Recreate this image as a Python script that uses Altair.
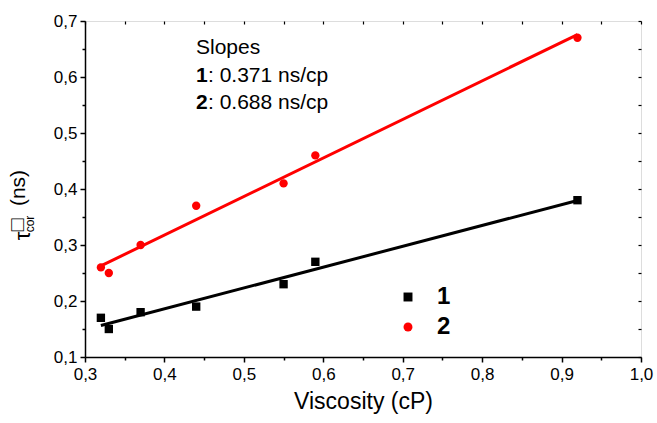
import altair as alt
import pandas as pd

viscosity = [0.32, 0.33, 0.37, 0.44, 0.55, 0.59, 0.92]
tau_1 = [0.17, 0.15, 0.18, 0.19, 0.23, 0.27, 0.38]
tau_2 = [0.26, 0.25, 0.30, 0.37, 0.41, 0.46, 0.67]
series_names = ["1", "2"]
series_colors = ["#000000", "#ff0000"]
series_shapes = ["square", "circle"]
x_ticks = [0.3, 0.35, 0.4, 0.45, 0.5, 0.55, 0.6, 0.65, 0.7, 0.75, 0.8, 0.85, 0.9, 0.95, 1.0]
y_ticks = [0.1, 0.15, 0.2, 0.25, 0.3, 0.35, 0.4, 0.45, 0.5, 0.55, 0.6, 0.65, 0.7]

rows = []
for name, vals in zip(series_names, [tau_1, tau_2]):
    for xv, yv in zip(viscosity, vals):
        rows.append({"x": xv, "y": yv, "series": name})
df = pd.DataFrame(rows)

FONT = "Liberation Sans"
minor_test = "abs(datum.value*10 - round(datum.value*10)) > 0.01"
label_expr = f"({minor_test}) ? '' : replace(format(datum.value, '.1f'), '.', ',')"

xscale = alt.Scale(domain=[0.3, 1.0], nice=False, zero=False)
yscale = alt.Scale(domain=[0.1, 0.7], nice=False, zero=False)

x_axis = alt.Axis(values=x_ticks, labelExpr=label_expr, title="Viscosity (cP)", orient="bottom",
                  titleFontSize=23, titleFont=FONT, titleFontWeight="normal", titleColor="black",
                  titlePadding=8, labelFont=FONT, labelFontSize=17, labelColor="black",
                  labelPadding=4, grid=False, domainColor="black", domainWidth=1.5,
                  tickColor="black", tickWidth=1.5,
                  tickSize={"condition": {"test": minor_test, "value": 3}, "value": 5},
                  labelFlush=False, labelOverlap=False)
y_axis = alt.Axis(values=y_ticks, labelExpr=label_expr, title=None, orient="left",
                  labelFont=FONT, labelFontSize=17, labelColor="black",
                  labelPadding=3, grid=False, domainColor="black", domainWidth=1.5,
                  tickColor="black", tickWidth=1.5,
                  tickSize={"condition": {"test": minor_test, "value": 3}, "value": 5},
                  labelFlush=False, labelOverlap=False)
top_axis = alt.Axis(values=x_ticks, orient="top", labels=False, title=None, domain=False,
                    grid=False, tickColor="black", tickWidth=1.2, tickSize=3, offset=-3)
right_axis = alt.Axis(values=y_ticks, orient="right", labels=False, title=None, domain=False,
                      grid=False, tickColor="black", tickWidth=1.2, tickSize=3, offset=-3)

leg = alt.Legend(orient="none", legendX=311, legendY=264, title=None, direction="vertical",
                 labelFont=FONT, labelFontSize=24, labelFontWeight="bold",
                 labelColor="black", symbolSize=80, symbolStrokeWidth=0,
                 labelOffset=17, rowPadding=6)
color = alt.Color("series:N", scale=alt.Scale(domain=series_names, range=series_colors), legend=leg)
shape = alt.Shape("series:N", scale=alt.Scale(domain=series_names, range=series_shapes), legend=leg)

base = alt.Chart(df)
points = base.mark_point(filled=True, size=70, opacity=1).encode(
    x=alt.X("x:Q", scale=xscale, axis=x_axis),
    y=alt.Y("y:Q", scale=yscale, axis=y_axis),
    color=color,
    shape=shape,
)
lines = base.transform_regression("x", "y", groupby=["series"]).mark_line(strokeWidth=3).encode(
    x=alt.X("x:Q", scale=xscale, axis=top_axis),
    y=alt.Y("y:Q", scale=yscale, axis=right_axis),
    stroke=alt.Stroke("series:N", scale=alt.Scale(domain=series_names, range=series_colors), legend=None),
)

def label(txt, x, y, size, weight="normal", angle=0, align="left"):
    return alt.Chart(pd.DataFrame({"t": [txt]})).mark_text(
        font=FONT, fontSize=size, fontWeight=weight, angle=angle, align=align,
        baseline="middle", color="black"
    ).encode(text="t:N", x=alt.value(x), y=alt.value(y))

annot = [
    label("Slopes", 111, 27, 21),
    label("1", 111, 55, 21, "bold"),
    label(": 0.371 ns/cp", 123, 55, 21),
    label("2", 111, 82, 21, "bold"),
    label(": 0.688 ns/cp", 123, 82, 21),
    label("τ", -62, 215, 22, angle=270, align="center"),
    label("□", -67, 204, 21, angle=270, align="center"),
    label("cor", -55, 203, 12, angle=270, align="center"),
    label("(ns)", -66, 167, 21, angle=270, align="center"),
]

chart = alt.layer(points, lines, *annot).resolve_axis(x="independent", y="independent").properties(
    width=556, height=336,
    autosize=alt.AutoSizeParams(type="none"),
    padding={"left": 85, "top": 21, "right": 16, "bottom": 66},
).configure_view(stroke="black", strokeWidth=1.5).configure(background="white")

chart.save("out.html", embed_options={"renderer": "svg", "actions": False})
